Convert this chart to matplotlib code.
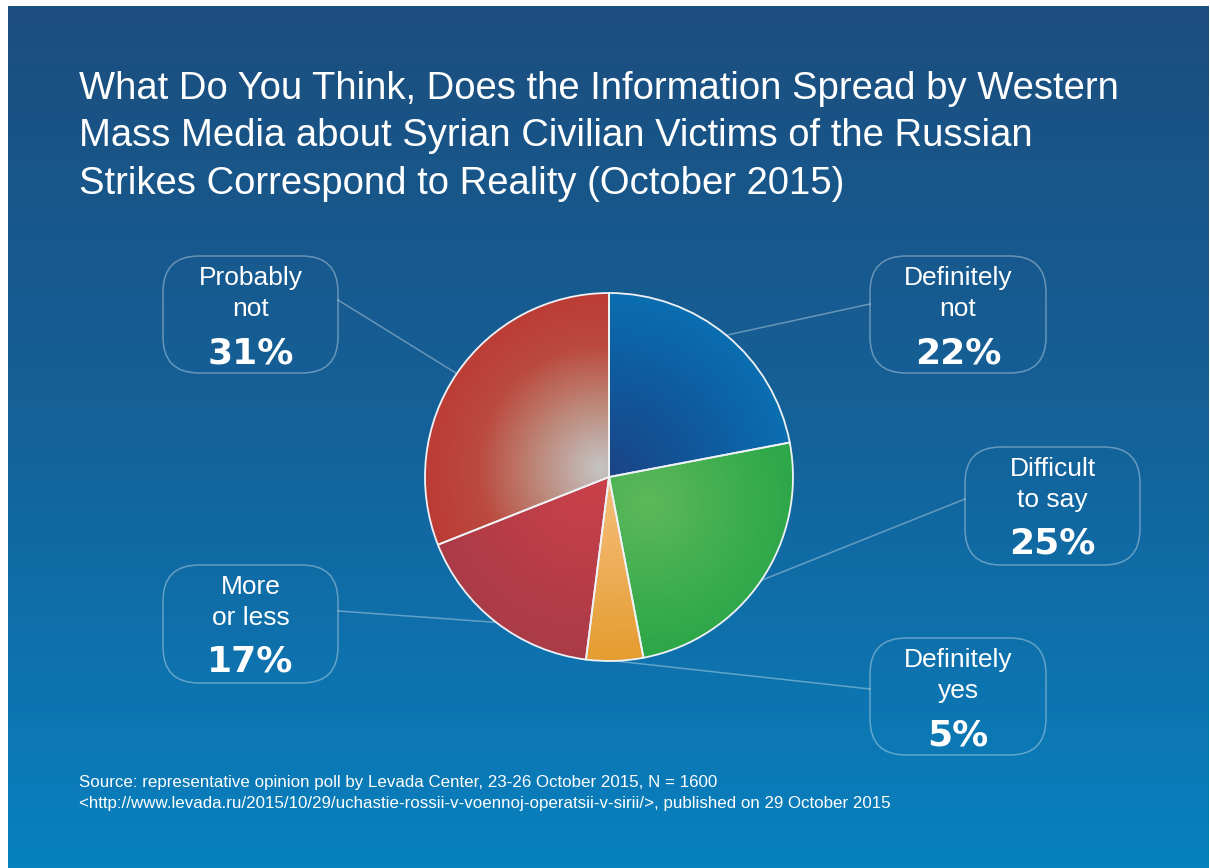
import numpy as np
import matplotlib.pyplot as plt
from matplotlib.patches import FancyBboxPatch
from matplotlib.colors import LinearSegmentedColormap

W, H = 1210, 868

title_lines = [
    "What Do You Think, Does the Information Spread by Western",
    "Mass Media about Syrian Civilian Victims of the Russian",
    "Strikes Correspond to Reality (October 2015)",
]
answers = ["Definitely\nnot", "Difficult\nto say", "Definitely\nyes", "More\nor less", "Probably\nnot"]
shares = [22, 25, 5, 17, 31]
source_lines = [
    "Source: representative opinion poll by Levada Center, 23-26 October 2015, N = 1600",
    "<http://www.levada.ru/2015/10/29/uchastie-rossii-v-voennoj-operatsii-v-sirii/>, published on 29 October 2015",
]

# slice shading: colour stops and the point (px) the shading radiates from
shading = [
    (["#1b4487", "#10589c", "#0a70b2"], (609, 477), 190),
    (["#5db85b", "#3fae4f", "#25a445"], (648, 503), 175),
    (["#f4c07c", "#eeae58", "#e59c30"], (609, 477), 184),
    (["#c9414a", "#b83d48", "#a63b47"], (590, 485), 190),
    (["#c4c4c4", "#bd8a7c", "#bb4a3e", "#bc3a34"], (600, 468), 184),
]

# label boxes in px: left, top, right, bottom, side that the leader leaves from, leader y
boxes = [
    (870, 256, 1046, 373, "left", 304),
    (965, 447, 1140, 565, "left", 499),
    (870, 638, 1046, 755, "left", 689),
    (163, 565, 338, 683, "right", 611),
    (163, 256, 338, 373, "right", 300),
]

cx, cy, R = 609, 477, 184


def fy(y):
    return H - y


fig = plt.figure(figsize=(W / 100, H / 100), dpi=100, facecolor="white")
ax = fig.add_axes([0, 0, 1, 1])

# backdrop gradient, dark navy at the top to bright blue at the bottom
bg = LinearSegmentedColormap.from_list("bg", ["#1c4e7e", "#14629a", "#0881bf"])
grad = np.linspace(0, 1, 256).reshape(-1, 1)
ax.imshow(bg(grad), extent=(8, 1209, 0, fy(6)), aspect="auto", origin="upper", zorder=0)

wedges, _ = ax.pie(shares, startangle=90, counterclock=False, radius=R,
                   center=(cx, fy(cy)),
                   wedgeprops=dict(edgecolor="#eef2f6", linewidth=1.3, zorder=3))

# fill each slice with its own radial shading, clipped to the wedge
n = 400
xs = np.linspace(cx - R - 2, cx + R + 2, n)
ys = np.linspace(cy - R - 2, cy + R + 2, n)
gx, gy = np.meshgrid(xs, ys)
for w, (stops, (sx, sy), scale) in zip(wedges, shading):
    cmap = LinearSegmentedColormap.from_list("s", stops)
    d = np.clip(np.hypot(gx - sx, gy - sy) / scale, 0, 1)
    im = ax.imshow(cmap(d), extent=(xs[0], xs[-1], fy(ys[-1]), fy(ys[0])),
                   origin="upper", zorder=2, interpolation="bilinear")
    im.set_clip_path(w)
    w.set_facecolor("none")

line_col = (1, 1, 1, 0.35)
for w, label, val, (l, t, r, b, side, ly) in zip(wedges, answers, shares, boxes):
    box = FancyBboxPatch((l, fy(b)), r - l, b - t,
                         boxstyle="round,pad=0,rounding_size=36",
                         facecolor="none", edgecolor=line_col, linewidth=1.1, zorder=4)
    ax.add_patch(box)

    mid = np.radians((w.theta1 + w.theta2) / 2)
    px = cx + R * np.cos(mid)
    py = fy(cy) + R * np.sin(mid)
    bx = l if side == "left" else r
    ax.plot([bx, px], [fy(ly), py], color=line_col, linewidth=1.1, zorder=1)

    mx = (l + r) / 2
    first, second = label.split("\n")
    ax.text(mx, fy(t + 22), first, color="white", fontsize=19, family="Liberation Sans",
            ha="center", va="center", zorder=5)
    ax.text(mx, fy(t + 53), second, color="white", fontsize=19, family="Liberation Sans",
            ha="center", va="center", zorder=5)
    ax.text(mx, fy(t + 97), f"{val}%", color="white", fontsize=26, family="DejaVu Sans",
            fontweight="bold", ha="center", va="center", zorder=5)

for i, line in enumerate(title_lines):
    ax.text(79, fy(99 + 47.5 * i), line, color="white", fontsize=27.5,
            family="Liberation Sans", ha="left", va="baseline")

for i, line in enumerate(source_lines):
    ax.text(79, fy(787 + 21 * i), line, color="white", fontsize=12.2,
            family="Liberation Sans", ha="left", va="baseline")

ax.set_xlim(0, W)
ax.set_ylim(0, H)
ax.set_aspect("auto")
ax.axis("off")

fig.savefig("out.png", dpi=100, facecolor="white")
